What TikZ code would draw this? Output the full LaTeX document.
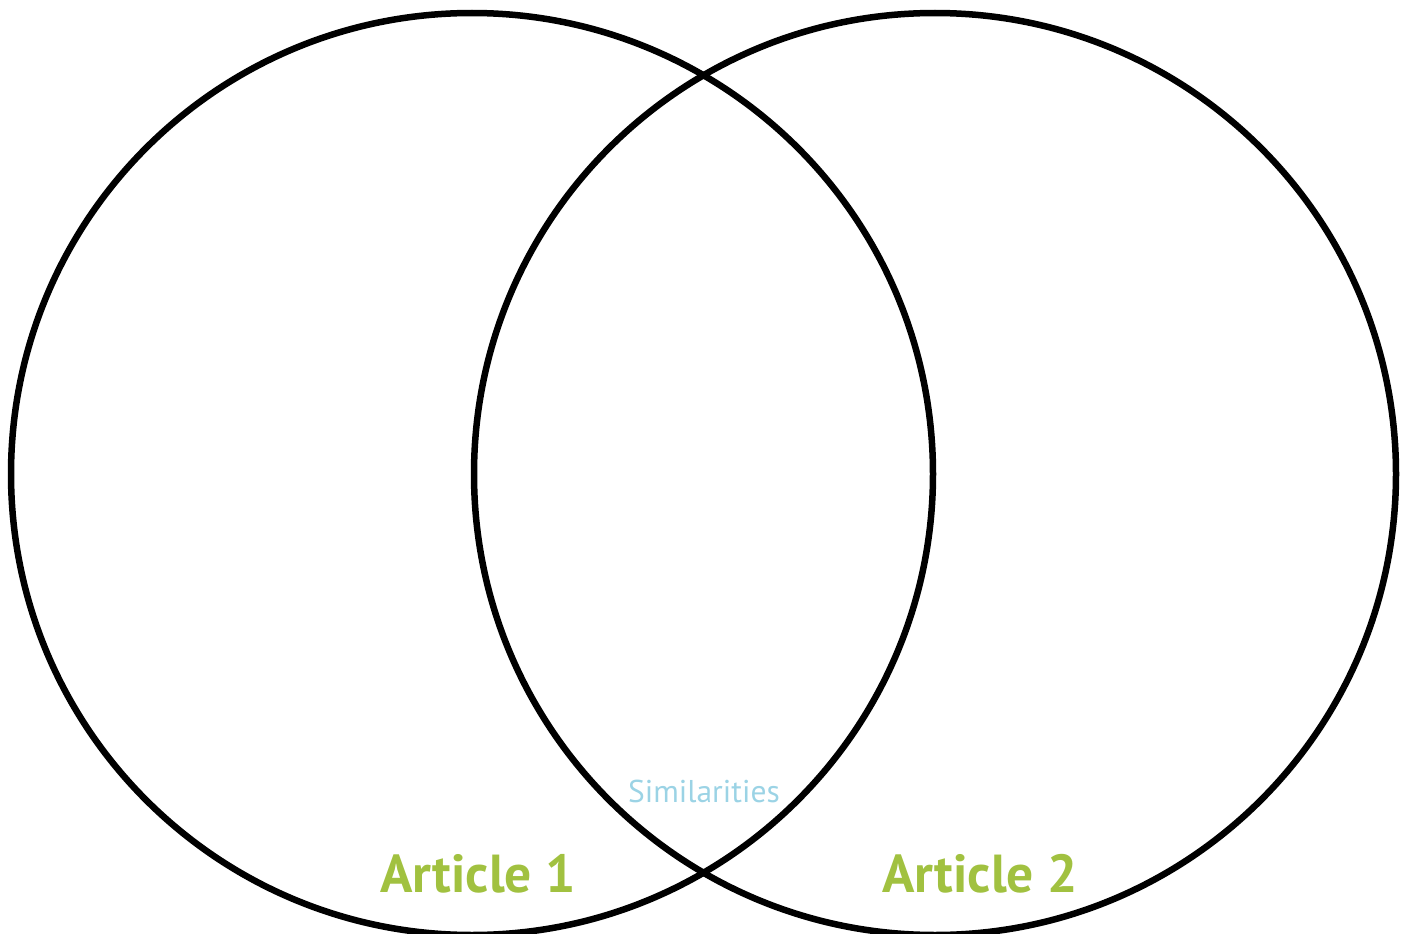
\documentclass[tikz,border=0pt]{standalone}
\usepackage{fontspec}
\setmainfont{PT Sans}
\usepackage{xcolor}
\usepackage{tikz}
\usetikzlibrary{positioning}
\definecolor{leafgreen}{RGB}{161,193,64}
\definecolor{skyblue}{RGB}{155,211,229}

\begin{document}
\begin{tikzpicture}[
  x=1pt,y=-1pt,
  venn/.style={draw=black,circle,line width=6.5pt,minimum size=922pt,inner sep=0pt},
  title/.style={text=leafgreen,font=\bfseries\fontsize{53.5}{60}\selectfont,anchor=base},
  common/.style={text=skyblue,font=\fontsize{31.5}{36}\selectfont,anchor=base},
]
\useasboundingbox (0,0) rectangle (1409,934);
\node[venn] (art1) at (472,474) {};
\node[venn] (art2) at (935,474) {};

\node[title] (lbl1) at (478,892) {Article 1};
\node[title] (lbl2) at (980,892) {Article 2};
\node[common] (sim) at (704,802) {Similarities};
\end{tikzpicture}
\end{document}
